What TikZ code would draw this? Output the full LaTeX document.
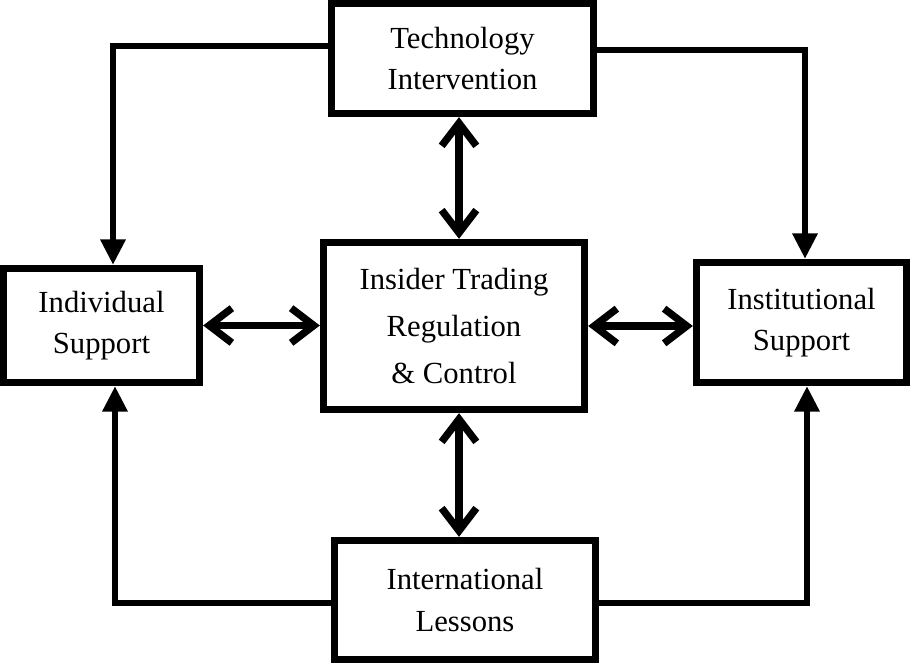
\documentclass[tikz,border=0pt]{standalone}
\usepackage{fontspec}
\setmainfont{Liberation Serif}
\usetikzlibrary{arrows.meta}

\begin{document}
\begin{tikzpicture}[
    x=0.75pt, y=-0.75pt,
    box/.style={draw, line width=5.5pt, align=center, inner sep=0pt,
        font=\fontsize{23}{31}\selectfont},
    twoway/.style={line width=5.5pt,
        {Straight Barb[length=17pt,width=26pt]}-{Straight Barb[length=17pt,width=26pt]}},
    oneway/.style={line width=4.5pt, -{Triangle[length=19pt,width=18pt]}}
]
    \useasboundingbox (0,0) rectangle (910,666);

    % Boxes
    \node[box, minimum width=196.5pt, minimum height=82.5pt] (tech) at (462.5,58.5)
        {Technology\\Intervention};
    \node[box, minimum width=195.75pt, minimum height=125.25pt,
        font=\fontsize{23}{35}\selectfont] (ctr) at (454,326)
        {Insider Trading\\Regulation\\\& Control};
    \node[box, minimum width=195.75pt, minimum height=89.25pt] (intl) at (465,600)
        {International\\Lessons};
    \node[box, minimum width=147pt, minimum height=85.5pt] (indiv) at (101.5,325.5)
        {Individual\\Support};
    \node[box, minimum width=157.5pt, minimum height=90pt] (inst) at (801.5,322.5)
        {Institutional\\Support};

    % Corners of the outer loop
    \coordinate (tl) at (113,46);
    \coordinate (tr) at (805,50);
    \coordinate (bl) at (115,603);
    \coordinate (br) at (807,603);
    \coordinate (vx) at (459,0);

    % Outer loop (one way)
    \draw[oneway] (tech.west |- tl) -- (tl) -- (indiv.north -| tl);
    \draw[oneway] (tech.east |- tr) -- (tr) -- (inst.north -| tr);
    \draw[oneway] (intl.west |- bl) -- (bl) -- (indiv.south -| bl);
    \draw[oneway] (intl.east |- br) -- (br) -- (inst.south -| br);

    % Links to the centre (two way)
    \draw[twoway] (tech.south -| vx) -- (ctr.north -| vx);
    \draw[twoway] (ctr.south -| vx) -- (intl.north -| vx);
    \draw[twoway] (indiv.east) -- (ctr.west |- indiv.east);
    \draw[twoway] (ctr.east) -- (inst.west |- ctr.east);

\end{tikzpicture}
\end{document}
